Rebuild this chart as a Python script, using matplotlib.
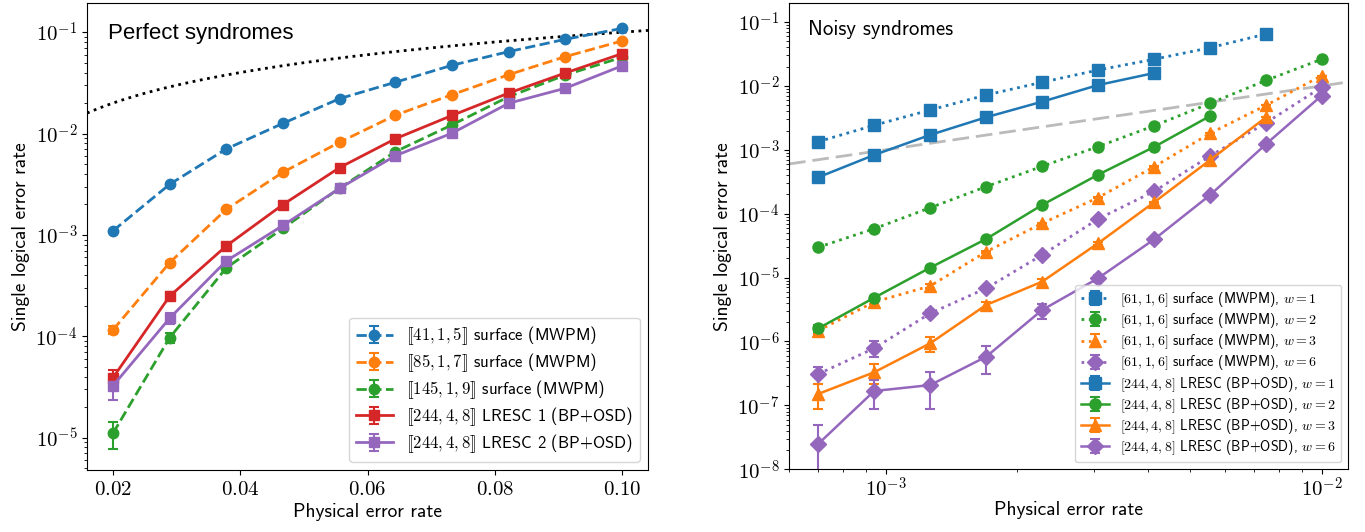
import numpy as np
import matplotlib
matplotlib.use("Agg")
import matplotlib.pyplot as plt
from matplotlib.ticker import FixedLocator, FuncFormatter, NullFormatter

plt.rcParams['font.family'] = 'cmss10'
plt.rcParams['mathtext.fontset'] = 'cm'
plt.rcParams['axes.unicode_minus'] = False
plt.rcParams['axes.formatter.use_mathtext'] = True

# ---------------- Left panel data (perfect syndromes) ----------------
x_left = [0.02, 0.0289, 0.0378, 0.0467, 0.0556, 0.0644, 0.0733, 0.0822, 0.0911, 0.10]
s41 = [1.10e-3, 3.16e-3, 7.05e-3, 1.26e-2, 2.21e-2, 3.21e-2, 4.72e-2, 6.43e-2, 8.51e-2, 0.109]
s85 = [1.16e-4, 5.33e-4, 1.79e-3, 4.15e-3, 8.2e-3, 1.52e-2, 2.42e-2, 3.81e-2, 5.74e-2, 8.19e-2]
s145 = [1.11e-5, 9.7e-5, 4.73e-4, 1.16e-3, 2.89e-3, 6.63e-3, 1.22e-2, 2.31e-2, 3.78e-2, 5.65e-2]
l1 = [3.92e-5, 2.49e-4, 7.79e-4, 1.99e-3, 4.61e-3, 8.9e-3, 1.51e-2, 2.51e-2, 3.96e-2, 6.14e-2]
l2 = [3.26e-5, 1.51e-4, 5.54e-4, 1.24e-3, 2.88e-3, 6.05e-3, 1.01e-2, 1.99e-2, 2.80e-2, 4.65e-2]
e41 = [3e-5, 5e-5, 7e-5, 1e-4, 1.5e-4, 2e-4, 2.5e-4, 3e-4, 3.5e-4, 4e-4]
e85 = [1e-5, 2.5e-5, 4e-5, 6e-5, 1e-4, 1.3e-4, 1.6e-4, 2e-4, 2.5e-4, 3e-4]
e145 = [3.3e-6, 1.2e-5, 2.5e-5, 4e-5, 6e-5, 9e-5, 1.2e-4, 1.5e-4, 2e-4, 2.5e-4]
el1 = [7e-6, 2.2e-5, 4e-5, 6e-5, 1e-4, 1.3e-4, 1.7e-4, 2.2e-4, 2.8e-4, 3.5e-4]
el2 = [9e-6, 1.8e-5, 3.5e-5, 5e-5, 8e-5, 1.2e-4, 1.5e-4, 2e-4, 2.5e-4, 3e-4]
left_labels = [r'$[\![41,1,5]\!]$ surface (MWPM)',
               r'$[\![85,1,7]\!]$ surface (MWPM)',
               r'$[\![145,1,9]\!]$ surface (MWPM)',
               r'$[\![244,4,8]\!]$ LRESC 1 (BP+OSD)',
               r'$[\![244,4,8]\!]$ LRESC 2 (BP+OSD)']
left_xticks = [0.02, 0.04, 0.06, 0.08, 0.10]
left_yticks = [1e-5, 1e-4, 1e-3, 1e-2, 1e-1]

# ---------------- Right panel data (noisy syndromes) ----------------
x_right = [7.0e-4, 9.41e-4, 1.265e-3, 1.70e-3, 2.285e-3, 3.07e-3, 4.13e-3, 5.55e-3, 7.46e-3, 1.0e-2]
sw1 = [1.34e-3, 2.42e-3, 4.2e-3, 7.2e-3, 1.14e-2, 1.77e-2, 2.61e-2, 3.96e-2, 6.49e-2]
sw2 = [2.98e-5, 5.82e-5, 1.24e-4, 2.65e-4, 5.51e-4, 1.12e-3, 2.38e-3, 5.34e-3, 1.22e-2, 2.61e-2]
sw3 = [1.48e-6, 4.15e-6, 7.39e-6, 2.54e-5, 7.07e-5, 1.78e-4, 5.44e-4, 1.81e-3, 4.97e-3, 1.44e-2]
sw6 = [3.10e-7, 7.83e-7, 2.76e-6, 6.8e-6, 2.26e-5, 8.26e-5, 2.24e-4, 8.0e-4, 2.65e-3, 9.5e-3]
lw1 = [3.71e-4, 8.3e-4, 1.71e-3, 3.23e-3, 5.66e-3, 1.03e-2, 1.59e-2]
lw2 = [1.60e-6, 4.84e-6, 1.43e-5, 4.02e-5, 1.37e-4, 4.07e-4, 1.11e-3, 3.38e-3]
lw3 = [1.51e-7, 3.30e-7, 9.37e-7, 3.73e-6, 8.63e-6, 3.44e-5, 1.51e-4, 6.92e-4, 3.23e-3]
lw6 = [2.49e-8, 1.68e-7, 2.08e-7, 5.78e-7, 3.11e-6, 9.75e-6, 3.97e-5, 1.96e-4, 1.23e-3, 7.03e-3]
esw1 = [3e-5, 4e-5, 6e-5, 8e-5, 1e-4, 1.3e-4, 1.6e-4, 2e-4, 2.5e-4]
esw2 = [1.5e-6, 2e-6, 3e-6, 5e-6, 7e-6, 1e-5, 1.5e-5, 2.2e-5, 3.5e-5, 5e-5]
esw3 = [1.8e-7, 3e-7, 5e-7, 1e-6, 1.6e-6, 3e-6, 5e-6, 1e-5, 1.6e-5, 2.8e-5]
esw6 = [0.9e-7, 2.2e-7, 3.5e-7, 6e-7, 1.2e-6, 2.5e-6, 4e-6, 8e-6, 1.5e-5, 2.8e-5]
elw1 = [6e-6, 1e-5, 1.5e-5, 2e-5, 3e-5, 4e-5, 5e-5]
elw2 = [1.8e-7, 4e-7, 8e-7, 1.5e-6, 3e-6, 5e-6, 9e-6, 1.6e-5]
elw3 = [0.64e-7, 1.1e-7, 2.5e-7, 4.5e-7, 8e-7, 2e-6, 4e-6, 8e-6, 1.8e-5]
elw6 = [2.45e-8, 0.8e-7, 1.2e-7, 2.65e-7, 0.82e-6, 1.2e-6, 2.5e-6, 6e-6, 1.3e-5, 3.5e-5]
weights = [1, 2, 3, 6]
right_xticks = [1e-3, 1e-2]
right_yticks = [1e-8, 1e-7, 1e-6, 1e-5, 1e-4, 1e-3, 1e-2, 1e-1]

C_BLUE, C_ORANGE, C_GREEN, C_RED, C_PURPLE = '#1f77b4', '#ff7f0e', '#2ca02c', '#d62728', '#9467bd'

fig = plt.figure(figsize=(13.65, 5.32), dpi=100)
axL = fig.add_axes([87/1365, (532-470)/532, 561/1365, (470-3.4)/532])
axR = fig.add_axes([789/1365, (532-469.3)/532, 559/1365, (469.3-3.4)/532])

logfmt = FuncFormatter(lambda v, p: r'$10^{%d}$' % int(round(np.log10(v))))

def minor_log_ticks(lo, hi):
    out = []
    for e in range(int(np.floor(np.log10(lo))), int(np.ceil(np.log10(hi))) + 1):
        for m in range(2, 10):
            v = m * 10.0 ** e
            if lo <= v <= hi:
                out.append(v)
    return out

# ---------- Left ----------
xlimL = (0.0159, 0.1041)
ylimL = (10**-5.319, 10**-0.716)
xs_ref = np.linspace(xlimL[0], xlimL[1], 200)
axL.plot(xs_ref, xs_ref, ':', color='black', lw=2, zorder=1)

ekw = dict(capsize=3.5, capthick=1.5, elinewidth=1.5, markersize=7.5)
series_L = [(s41, e41, C_BLUE, 'o', '--'),
            (s85, e85, C_ORANGE, 'o', '--'),
            (s145, e145, C_GREEN, 'o', '--'),
            (l1, el1, C_RED, 's', '-'),
            (l2, el2, C_PURPLE, 's', '-')]
for (ys, es, c, m, ls), lab in zip(series_L, left_labels):
    axL.errorbar(x_left[:len(ys)], ys, yerr=es, color=c, marker=m, ls=ls, lw=2,
                 label=lab, zorder=3, **ekw)
axL.set_yscale('log')
axL.set_xlim(*xlimL)
axL.set_ylim(*ylimL)
axL.xaxis.set_major_locator(FixedLocator(left_xticks))
axL.xaxis.set_major_formatter(FuncFormatter(lambda v, p: r'$%.2f$' % v))
axL.yaxis.set_major_locator(FixedLocator(left_yticks))
axL.yaxis.set_minor_locator(FixedLocator(minor_log_ticks(*ylimL)))
axL.yaxis.set_major_formatter(logfmt)
axL.yaxis.set_minor_formatter(NullFormatter())
axL.set_xlabel('Physical error rate', fontsize=14, labelpad=3)
axL.set_ylabel('Single logical error rate', fontsize=14)
axL.tick_params(labelsize=15)
axL.text(0.037, 0.935, 'Perfect syndromes', transform=axL.transAxes, fontsize=16,
         family='Liberation Sans', va='center', ha='left')
axL.legend(loc='lower right', fontsize=12, labelspacing=0.25, handlelength=2.2)

# ---------- Right ----------
xlimR = (6.0e-4, 1.15e-2)
ylimR = (1e-8, 10**-0.709)
xr_ref = np.logspace(np.log10(xlimR[0]), np.log10(xlimR[1]), 50)
axR.plot(xr_ref, xr_ref, color='#bbbbbb', lw=2, dashes=(6, 2.5), zorder=1)

surf = [(sw1, esw1, C_BLUE, 's'), (sw2, esw2, C_GREEN, 'o'),
        (sw3, esw3, C_ORANGE, '^'), (sw6, esw6, C_PURPLE, 'D')]
lres = [(lw1, elw1, C_BLUE, 's'), (lw2, elw2, C_GREEN, 'o'),
        (lw3, elw3, C_ORANGE, '^'), (lw6, elw6, C_PURPLE, 'D')]
ekwR = dict(capsize=3.5, capthick=1.5, elinewidth=1.5, markersize=8)
for (ys, es, c, m), w in zip(surf, weights):
    axR.errorbar(x_right[:len(ys)], ys, yerr=es, color=c, marker=m, ls=':', lw=2,
                 label=r'$[61,1,6]$ surface (MWPM), $w=%d$' % w, zorder=3, **ekwR)
for (ys, es, c, m), w in zip(lres, weights):
    axR.errorbar(x_right[:len(ys)], ys, yerr=es, color=c, marker=m, ls='-', lw=1.8,
                 label=r'$[244,4,8]$ LRESC (BP+OSD), $w=%d$' % w, zorder=3, **ekwR)
axR.set_xscale('log')
axR.set_yscale('log')
axR.set_xlim(*xlimR)
axR.set_ylim(*ylimR)
axR.xaxis.set_major_locator(FixedLocator(right_xticks))
axR.xaxis.set_minor_locator(FixedLocator(minor_log_ticks(*xlimR)))
axR.yaxis.set_major_locator(FixedLocator(right_yticks))
axR.yaxis.set_minor_locator(FixedLocator(minor_log_ticks(*ylimR)))
axR.xaxis.set_major_formatter(logfmt)
axR.yaxis.set_major_formatter(logfmt)
axR.xaxis.set_minor_formatter(NullFormatter())
axR.yaxis.set_minor_formatter(NullFormatter())
axR.set_xlabel('Physical error rate', fontsize=14, labelpad=0)
axR.set_ylabel('Single logical error rate', fontsize=14)
axR.tick_params(labelsize=15)
axR.tick_params(axis='x', pad=2)
axR.text(0.034, 0.943, 'Noisy syndromes', transform=axR.transAxes, fontsize=15,
         va='center', ha='left')
axR.legend(loc='lower right', fontsize=10, labelspacing=0.15)

fig.savefig('out.png', dpi=100)
